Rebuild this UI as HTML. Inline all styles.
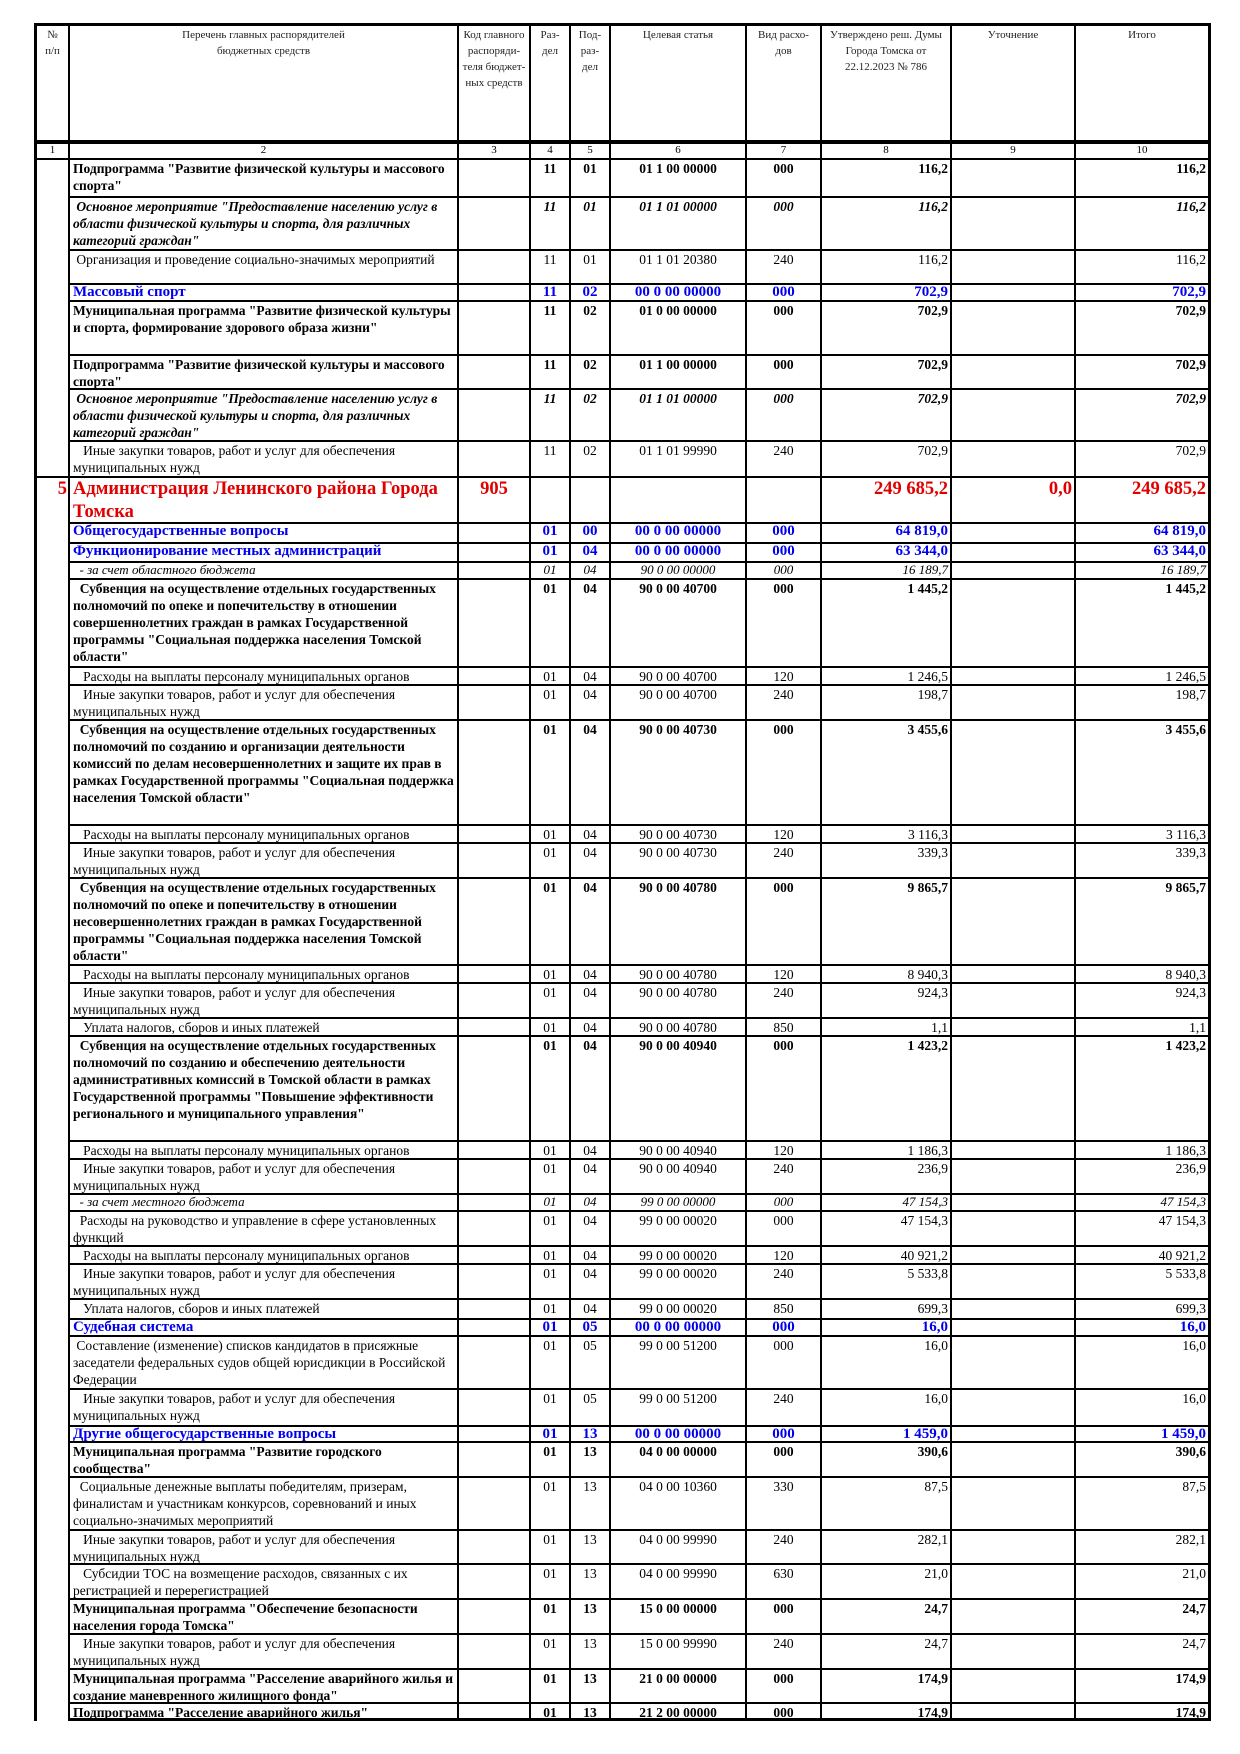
<!DOCTYPE html>
<html><head><meta charset="utf-8">
<style>
html,body{margin:0;padding:0;background:#fff;}
body{width:1240px;height:1754px;position:relative;overflow:hidden;font-family:"Liberation Serif","DejaVu Serif",serif;color:#000;}
.g{position:absolute;left:34px;top:23px;border:3px solid #000;background:#000;display:grid;gap:2px;
grid-template-columns:31px 387px 70px 38px 38px 134px 73px 128px 122px 132px;
grid-template-rows:114px 16px 36px 51px 32px 15px 52px 32px 50px 34px 44px 18px 17px 15px 86px 16px 33px 103px 16px 33px 85px 16px 33px 16px 103px 16px 33px 15px 33px 16px 33px 18px 15px 51px 35px 14px 33px 51px 32px 33px 33px 33px 32px 14px;}
.g>div>div,.g>div.c1{background:#fff;overflow:hidden;white-space:nowrap;}
.r{display:contents;}
.r>div{font-size:13.5px;line-height:17px;padding:0 3px;text-align:center;}
.r>div:nth-child(1){text-align:left;}
.r>div:nth-child(7),.r>div:nth-child(8),.r>div:nth-child(9){text-align:right;padding-right:2px;}
.h>div{font-size:11px;line-height:16px;text-align:center!important;padding:1px 0 0 0!important;color:#222;}
.n>div{font-size:11px;line-height:12px;text-align:center!important;border-top:2px solid #000;border-bottom:0;padding:0!important;}
.b>div{font-weight:bold;}
.bi>div{font-weight:bold;font-style:italic;}
.it>div{font-style:italic;font-size:13px;line-height:14px;}
.bl>div{font-weight:bold;color:#0000ee;font-size:15px;line-height:15px;}
.rd>div{font-weight:bold;color:#e00000;font-size:18.5px;line-height:23px;}
.c1{font-size:13px;text-align:center;}
</style></head><body>
<div class="g">
<div class="c1" style="grid-column:1;grid-row:1;font-size:11px;line-height:16px;padding-top:1px;color:#222">№<br>п/п</div>
<div class="c1" style="grid-column:1;grid-row:2;font-size:11px;line-height:12px;border-top:2px solid #000">1</div>
<div class="c1" style="grid-column:1;grid-row:3 / span 8"></div>
<div class="c1" style="grid-column:1;grid-row:11 / span 34;color:#e00000;font-weight:bold;font-size:18.5px;line-height:23px;text-align:right;padding-right:1px">5</div>
<div class="r h"><div>Перечень главных распорядителей<br>бюджетных средств</div><div>Код главного<br>распоряди-<br>теля бюджет-<br>ных средств</div><div>Раз-<br>дел</div><div>Под-<br>раз-<br>дел</div><div>Целевая статья</div><div>Вид расхо-<br>дов</div><div>Утверждено реш. Думы<br>Города Томска от<br>22.12.2023 № 786</div><div>Уточнение</div><div>Итого</div></div>
<div class="r n"><div>2</div><div>3</div><div>4</div><div>5</div><div>6</div><div>7</div><div>8</div><div>9</div><div>10</div></div>
<div class="r b"><div>Подпрограмма "Развитие физической культуры и массового<br>спорта"</div><div></div><div>11</div><div>01</div><div>01 1 00 00000</div><div>000</div><div>116,2</div><div></div><div>116,2</div></div>
<div class="r bi"><div>&nbsp;Основное мероприятие "Предоставление населению услуг в<br>области физической культуры и спорта, для различных<br>категорий граждан"</div><div></div><div>11</div><div>01</div><div>01 1 01 00000</div><div>000</div><div>116,2</div><div></div><div>116,2</div></div>
<div class="r"><div>&nbsp;Организация и проведение социально-значимых мероприятий</div><div></div><div>11</div><div>01</div><div>01 1 01 20380</div><div>240</div><div>116,2</div><div></div><div>116,2</div></div>
<div class="r bl"><div>Массовый спорт</div><div></div><div>11</div><div>02</div><div>00 0 00 00000</div><div>000</div><div>702,9</div><div></div><div>702,9</div></div>
<div class="r b"><div>Муниципальная программа "Развитие физической культуры<br>и спорта, формирование здорового образа жизни"</div><div></div><div>11</div><div>02</div><div>01 0 00 00000</div><div>000</div><div>702,9</div><div></div><div>702,9</div></div>
<div class="r b"><div>Подпрограмма "Развитие физической культуры и массового<br>спорта"</div><div></div><div>11</div><div>02</div><div>01 1 00 00000</div><div>000</div><div>702,9</div><div></div><div>702,9</div></div>
<div class="r bi"><div>&nbsp;Основное мероприятие "Предоставление населению услуг в<br>области физической культуры и спорта, для различных<br>категорий граждан"</div><div></div><div>11</div><div>02</div><div>01 1 01 00000</div><div>000</div><div>702,9</div><div></div><div>702,9</div></div>
<div class="r"><div>&nbsp;&nbsp;&nbsp;Иные закупки товаров, работ и услуг для обеспечения<br>муниципальных нужд</div><div></div><div>11</div><div>02</div><div>01 1 01 99990</div><div>240</div><div>702,9</div><div></div><div>702,9</div></div>
<div class="r rd"><div>Администрация Ленинского района Города<br>Томска</div><div>905</div><div></div><div></div><div></div><div></div><div>249 685,2</div><div>0,0</div><div>249 685,2</div></div>
<div class="r bl"><div>Общегосударственные вопросы</div><div></div><div>01</div><div>00</div><div>00 0 00 00000</div><div>000</div><div>64 819,0</div><div></div><div>64 819,0</div></div>
<div class="r bl"><div>Функционирование местных администраций</div><div></div><div>01</div><div>04</div><div>00 0 00 00000</div><div>000</div><div>63 344,0</div><div></div><div>63 344,0</div></div>
<div class="r it"><div>&nbsp;&nbsp;- за счет областного бюджета</div><div></div><div>01</div><div>04</div><div>90 0 00 00000</div><div>000</div><div>16 189,7</div><div></div><div>16 189,7</div></div>
<div class="r b"><div>&nbsp;&nbsp;Субвенция на осуществление отдельных государственных<br>полномочий по опеке и попечительству в отношении<br>совершеннолетних граждан в рамках Государственной<br>программы "Социальная поддержка населения Томской<br>области"</div><div></div><div>01</div><div>04</div><div>90 0 00 40700</div><div>000</div><div>1 445,2</div><div></div><div>1 445,2</div></div>
<div class="r"><div>&nbsp;&nbsp;&nbsp;Расходы на выплаты персоналу муниципальных органов</div><div></div><div>01</div><div>04</div><div>90 0 00 40700</div><div>120</div><div>1 246,5</div><div></div><div>1 246,5</div></div>
<div class="r"><div>&nbsp;&nbsp;&nbsp;Иные закупки товаров, работ и услуг для обеспечения<br>муниципальных нужд</div><div></div><div>01</div><div>04</div><div>90 0 00 40700</div><div>240</div><div>198,7</div><div></div><div>198,7</div></div>
<div class="r b"><div>&nbsp;&nbsp;Субвенция на осуществление отдельных государственных<br>полномочий по созданию и организации деятельности<br>комиссий по делам несовершеннолетних и защите их прав в<br>рамках Государственной программы "Социальная поддержка<br>населения Томской области"</div><div></div><div>01</div><div>04</div><div>90 0 00 40730</div><div>000</div><div>3 455,6</div><div></div><div>3 455,6</div></div>
<div class="r"><div>&nbsp;&nbsp;&nbsp;Расходы на выплаты персоналу муниципальных органов</div><div></div><div>01</div><div>04</div><div>90 0 00 40730</div><div>120</div><div>3 116,3</div><div></div><div>3 116,3</div></div>
<div class="r"><div>&nbsp;&nbsp;&nbsp;Иные закупки товаров, работ и услуг для обеспечения<br>муниципальных нужд</div><div></div><div>01</div><div>04</div><div>90 0 00 40730</div><div>240</div><div>339,3</div><div></div><div>339,3</div></div>
<div class="r b"><div>&nbsp;&nbsp;Субвенция на осуществление отдельных государственных<br>полномочий по опеке и попечительству в отношении<br>несовершеннолетних граждан в рамках Государственной<br>программы "Социальная поддержка населения Томской<br>области"</div><div></div><div>01</div><div>04</div><div>90 0 00 40780</div><div>000</div><div>9 865,7</div><div></div><div>9 865,7</div></div>
<div class="r"><div>&nbsp;&nbsp;&nbsp;Расходы на выплаты персоналу муниципальных органов</div><div></div><div>01</div><div>04</div><div>90 0 00 40780</div><div>120</div><div>8 940,3</div><div></div><div>8 940,3</div></div>
<div class="r"><div>&nbsp;&nbsp;&nbsp;Иные закупки товаров, работ и услуг для обеспечения<br>муниципальных нужд</div><div></div><div>01</div><div>04</div><div>90 0 00 40780</div><div>240</div><div>924,3</div><div></div><div>924,3</div></div>
<div class="r"><div>&nbsp;&nbsp;&nbsp;Уплата налогов, сборов и иных платежей</div><div></div><div>01</div><div>04</div><div>90 0 00 40780</div><div>850</div><div>1,1</div><div></div><div>1,1</div></div>
<div class="r b"><div>&nbsp;&nbsp;Субвенция на осуществление отдельных государственных<br>полномочий по созданию и обеспечению деятельности<br>административных комиссий в Томской области в рамках<br>Государственной программы "Повышение эффективности<br>регионального и муниципального управления"</div><div></div><div>01</div><div>04</div><div>90 0 00 40940</div><div>000</div><div>1 423,2</div><div></div><div>1 423,2</div></div>
<div class="r"><div>&nbsp;&nbsp;&nbsp;Расходы на выплаты персоналу муниципальных органов</div><div></div><div>01</div><div>04</div><div>90 0 00 40940</div><div>120</div><div>1 186,3</div><div></div><div>1 186,3</div></div>
<div class="r"><div>&nbsp;&nbsp;&nbsp;Иные закупки товаров, работ и услуг для обеспечения<br>муниципальных нужд</div><div></div><div>01</div><div>04</div><div>90 0 00 40940</div><div>240</div><div>236,9</div><div></div><div>236,9</div></div>
<div class="r it"><div>&nbsp;&nbsp;- за счет местного бюджета</div><div></div><div>01</div><div>04</div><div>99 0 00 00000</div><div>000</div><div>47 154,3</div><div></div><div>47 154,3</div></div>
<div class="r"><div>&nbsp;&nbsp;Расходы на руководство и управление в сфере установленных<br>функций</div><div></div><div>01</div><div>04</div><div>99 0 00 00020</div><div>000</div><div>47 154,3</div><div></div><div>47 154,3</div></div>
<div class="r"><div>&nbsp;&nbsp;&nbsp;Расходы на выплаты персоналу муниципальных органов</div><div></div><div>01</div><div>04</div><div>99 0 00 00020</div><div>120</div><div>40 921,2</div><div></div><div>40 921,2</div></div>
<div class="r"><div>&nbsp;&nbsp;&nbsp;Иные закупки товаров, работ и услуг для обеспечения<br>муниципальных нужд</div><div></div><div>01</div><div>04</div><div>99 0 00 00020</div><div>240</div><div>5 533,8</div><div></div><div>5 533,8</div></div>
<div class="r"><div>&nbsp;&nbsp;&nbsp;Уплата налогов, сборов и иных платежей</div><div></div><div>01</div><div>04</div><div>99 0 00 00020</div><div>850</div><div>699,3</div><div></div><div>699,3</div></div>
<div class="r bl"><div>Судебная система</div><div></div><div>01</div><div>05</div><div>00 0 00 00000</div><div>000</div><div>16,0</div><div></div><div>16,0</div></div>
<div class="r"><div>&nbsp;Составление (изменение) списков кандидатов в присяжные<br>заседатели федеральных судов общей юрисдикции в Российской<br>Федерации</div><div></div><div>01</div><div>05</div><div>99 0 00 51200</div><div>000</div><div>16,0</div><div></div><div>16,0</div></div>
<div class="r"><div>&nbsp;&nbsp;&nbsp;Иные закупки товаров, работ и услуг для обеспечения<br>муниципальных нужд</div><div></div><div>01</div><div>05</div><div>99 0 00 51200</div><div>240</div><div>16,0</div><div></div><div>16,0</div></div>
<div class="r bl"><div>Другие общегосударственные вопросы</div><div></div><div>01</div><div>13</div><div>00 0 00 00000</div><div>000</div><div>1 459,0</div><div></div><div>1 459,0</div></div>
<div class="r b"><div>Муниципальная программа "Развитие городского<br>сообщества"</div><div></div><div>01</div><div>13</div><div>04 0 00 00000</div><div>000</div><div>390,6</div><div></div><div>390,6</div></div>
<div class="r"><div>&nbsp;&nbsp;Социальные денежные выплаты победителям, призерам,<br>финалистам и участникам конкурсов, соревнований и иных<br>социально-значимых мероприятий</div><div></div><div>01</div><div>13</div><div>04 0 00 10360</div><div>330</div><div>87,5</div><div></div><div>87,5</div></div>
<div class="r"><div>&nbsp;&nbsp;&nbsp;Иные закупки товаров, работ и услуг для обеспечения<br>муниципальных нужд</div><div></div><div>01</div><div>13</div><div>04 0 00 99990</div><div>240</div><div>282,1</div><div></div><div>282,1</div></div>
<div class="r"><div>&nbsp;&nbsp;&nbsp;Субсидии ТОС на возмещение расходов, связанных с их<br>регистрацией и перерегистрацией</div><div></div><div>01</div><div>13</div><div>04 0 00 99990</div><div>630</div><div>21,0</div><div></div><div>21,0</div></div>
<div class="r b"><div>Муниципальная программа "Обеспечение безопасности<br>населения города Томска"</div><div></div><div>01</div><div>13</div><div>15 0 00 00000</div><div>000</div><div>24,7</div><div></div><div>24,7</div></div>
<div class="r"><div>&nbsp;&nbsp;&nbsp;Иные закупки товаров, работ и услуг для обеспечения<br>муниципальных нужд</div><div></div><div>01</div><div>13</div><div>15 0 00 99990</div><div>240</div><div>24,7</div><div></div><div>24,7</div></div>
<div class="r b"><div>Муниципальная программа "Расселение аварийного жилья и<br>создание маневренного жилищного фонда"</div><div></div><div>01</div><div>13</div><div>21 0 00 00000</div><div>000</div><div>174,9</div><div></div><div>174,9</div></div>
<div class="r b"><div>Подпрограмма "Расселение аварийного жилья"</div><div></div><div>01</div><div>13</div><div>21 2 00 00000</div><div>000</div><div>174,9</div><div></div><div>174,9</div></div>
</div>
<div style="position:absolute;left:37px;top:1717px;width:31px;height:6px;background:#fff"></div>
</body></html>
